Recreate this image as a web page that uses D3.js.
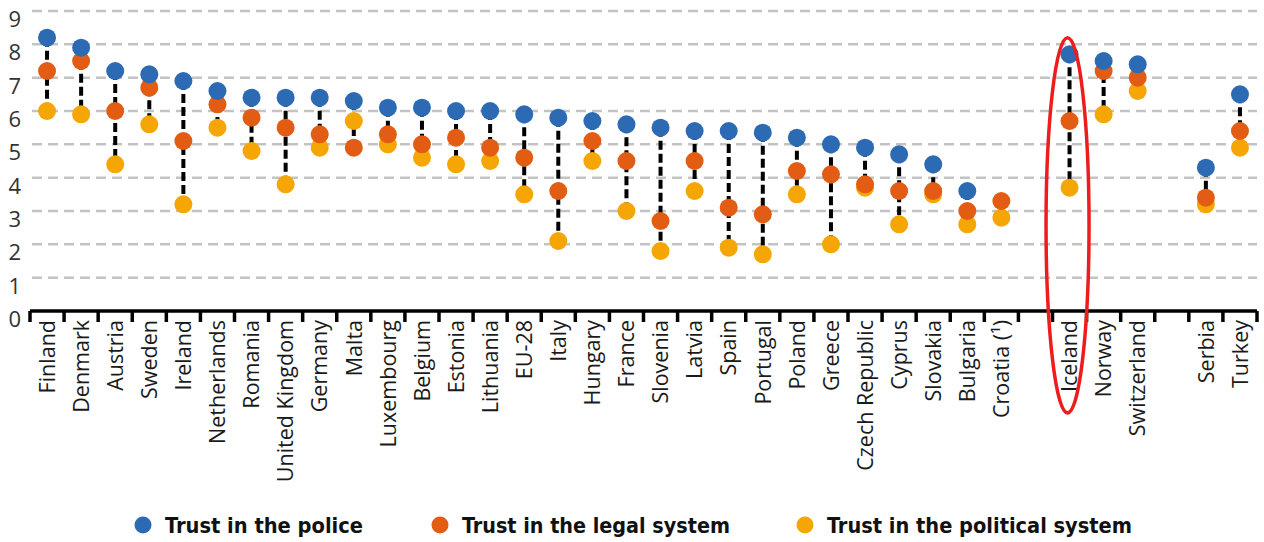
<!DOCTYPE html>
<html>
<head>
    <meta charset="utf-8">
    <title>Trust in police, legal and political system</title>
    <script src="https://d3js.org/d3.v7.min.js"></script>
    <style>
        body {
            margin: 0;
            background-color: #ffffff;
        }
        .tick-label {
            font-family: "Open Sans", "Noto Sans", sans-serif;
            font-size: 21.5px;
            fill: #1a1a1a;
        }
        .y-label {
            font-family: "Open Sans", "Noto Sans", sans-serif;
            font-size: 22px;
            fill: #333;
        }
        .legend-text {
            font-family: "Liberation Sans Narrow", "DejaVu Sans Condensed", sans-serif;
            font-weight: bold;
            font-size: 21px;
            fill: #111;
        }
    </style>
</head>
<body>
<div id="chart"></div>
<script>

    // categories, in the order they sit on the x axis ("" = empty slot)
    var countries = ["Finland", "Denmark", "Austria", "Sweden", "Ireland", "Netherlands", "Romania",
        "United Kingdom", "Germany", "Malta", "Luxembourg", "Belgium", "Estonia", "Lithuania", "EU-28",
        "Italy", "Hungary", "France", "Slovenia", "Latvia", "Spain", "Portugal", "Poland", "Greece",
        "Czech Republic", "Cyprus", "Slovakia", "Bulgaria", "Croatia (¹)", "",
        "Iceland", "Norway", "Switzerland", "", "Serbia", "Turkey"];

    // mean trust ratings (0-10), null where no value / empty slot
    var police = [8.2, 7.9, 7.2, 7.1, 6.9, 6.6, 6.4, 6.4, 6.4, 6.3, 6.1, 6.1, 6.0, 6.0, 5.9,
        5.8, 5.7, 5.6, 5.5, 5.4, 5.4, 5.35, 5.2, 5.0, 4.9, 4.7, 4.4, 3.6, null, null,
        7.7, 7.5, 7.4, null, 4.3, 6.5];
    var legal = [7.2, 7.5, 6.0, 6.7, 5.1, 6.2, 5.8, 5.5, 5.3, 4.9, 5.3, 5.0, 5.2, 4.9, 4.6,
        3.6, 5.1, 4.5, 2.7, 4.5, 3.1, 2.9, 4.2, 4.1, 3.8, 3.6, 3.6, 3.0, 3.3, null,
        5.7, 7.2, 7.0, null, 3.4, 5.4];
    var political = [6.0, 5.9, 4.4, 5.6, 3.2, 5.5, 4.8, 3.8, 4.9, 5.7, 5.0, 4.6, 4.4, 4.5, 3.5,
        2.1, 4.5, 3.0, 1.8, 3.6, 1.9, 1.7, 3.5, 2.0, 3.7, 2.6, 3.5, 2.6, 2.8, null,
        3.7, 5.9, 6.6, null, 3.2, 4.9];

    var yTicks = [0, 1, 2, 3, 4, 5, 6, 7, 8, 9];
    var seriesNames = ["Trust in the police", "Trust in the legal system", "Trust in the political system"];
    var seriesColors = ["#2c6bb4", "#e35c13", "#f5a602"];
    var highlighted = "Iceland";

    var width = 1264, height = 542;
    var margin = { top: 11, right: 7, bottom: 231, left: 30 };

    var svg = d3.select("#chart")
        .append("svg")
        .attr("width", width)
        .attr("height", height);

    // one key per slot so empty slots stay distinct
    var slots = countries.map(function (c, i) { return i + "|" + c; });

    var x = d3.scaleBand()
        .domain(slots)
        .range([margin.left, width - margin.right]);

    var y = d3.scaleLinear()
        .domain([0, 9])
        .range([height - margin.bottom, margin.top]);

    var color = d3.scaleOrdinal().domain(seriesNames).range(seriesColors);

    // dashed grid lines
    svg.append("g")
        .selectAll("line")
        .data(yTicks.filter(function (d) { return d > 0; }))
        .enter()
        .append("line")
        .attr("x1", margin.left + 2)
        .attr("x2", width - margin.right)
        .attr("y1", function (d) { return y(d); })
        .attr("y2", function (d) { return y(d); })
        .style("stroke", "#c3c3c3")
        .style("stroke-width", 2.5)
        .style("stroke-dasharray", "10,6");

    // y labels
    svg.append("g")
        .selectAll("text")
        .data(yTicks)
        .enter()
        .append("text")
        .attr("class", "y-label")
        .attr("x", 21)
        .attr("y", function (d) { return y(d) + 16; })
        .attr("text-anchor", "end")
        .text(function (d) { return d; });

    // build rows
    var rows = countries.map(function (c, i) {
        return { key: slots[i], name: c, values: [police[i], legal[i], political[i]] };
    }).filter(function (d) { return d.name !== ""; });

    // dashed connectors between highest and lowest value
    svg.append("g")
        .selectAll("line")
        .data(rows)
        .enter()
        .append("line")
        .attr("x1", function (d) { return x(d.key) + x.bandwidth() / 2; })
        .attr("x2", function (d) { return x(d.key) + x.bandwidth() / 2; })
        .attr("y1", function (d) { return y(d3.max(d.values)); })
        .attr("y2", function (d) { return y(d3.min(d.values)); })
        .style("stroke", "#000")
        .style("stroke-width", 4)
        .style("stroke-dasharray", "9,4");

    // dots, drawn political first so police sits on top
    [2, 1, 0].forEach(function (s) {
        svg.append("g")
            .selectAll("circle")
            .data(rows.filter(function (d) { return d.values[s] != null; }))
            .enter()
            .append("circle")
            .attr("cx", function (d) { return x(d.key) + x.bandwidth() / 2; })
            .attr("cy", function (d) { return y(d.values[s]); })
            .attr("r", 9)
            .style("fill", color(seriesNames[s]));
    });

    // x axis line and boundary ticks
    var axisY = y(0);
    svg.append("line")
        .attr("x1", margin.left)
        .attr("x2", width - margin.right)
        .attr("y1", axisY)
        .attr("y2", axisY)
        .style("stroke", "#000")
        .style("stroke-width", 3.5);

    var bounds = slots.map(function (s) { return x(s); }).concat([x.range()[1]]);
    svg.append("g")
        .selectAll("line")
        .data(bounds)
        .enter()
        .append("line")
        .attr("x1", function (d) { return d; })
        .attr("x2", function (d) { return d; })
        .attr("y1", axisY)
        .attr("y2", axisY + 11)
        .style("stroke", "#000")
        .style("stroke-width", 3.5);

    // rotated country labels
    svg.append("g")
        .selectAll("text")
        .data(rows)
        .enter()
        .append("text")
        .attr("class", "tick-label")
        .attr("transform", function (d) {
            return "translate(" + (x(d.key) + x.bandwidth() / 2) + "," + (axisY + 9) + ") rotate(-90)";
        })
        .attr("text-anchor", "end")
        .attr("dy", "0.36em")
        .text(function (d) { return d.name; });

    // red ellipse round the highlighted country
    var hi = rows.filter(function (d) { return d.name === highlighted; })[0];
    var ellTop = y(8.2), ellBottom = 413;
    svg.append("ellipse")
        .attr("cx", x(hi.key) + x.bandwidth() / 2 - 2)
        .attr("cy", (ellTop + ellBottom) / 2)
        .attr("rx", 21.5)
        .attr("ry", (ellBottom - ellTop) / 2)
        .style("fill", "none")
        .style("stroke", "#ee1c1c")
        .style("stroke-width", 3.5);

    // legend
    var legendX = [143, 440, 805];
    var legendW = [198, 268, 305];
    var legend = svg.append("g")
        .selectAll("g")
        .data(seriesNames)
        .enter()
        .append("g")
        .attr("transform", function (d, i) { return "translate(" + legendX[i] + ",525)"; });

    legend.append("circle")
        .attr("r", 8.5)
        .style("fill", function (d) { return color(d); });

    legend.append("text")
        .attr("class", "legend-text")
        .attr("x", 22)
        .attr("dy", "0.36em")
        .attr("textLength", function (d, i) { return legendW[i]; })
        .attr("lengthAdjust", "spacingAndGlyphs")
        .text(function (d) { return d; });

</script>
</body>
</html>
